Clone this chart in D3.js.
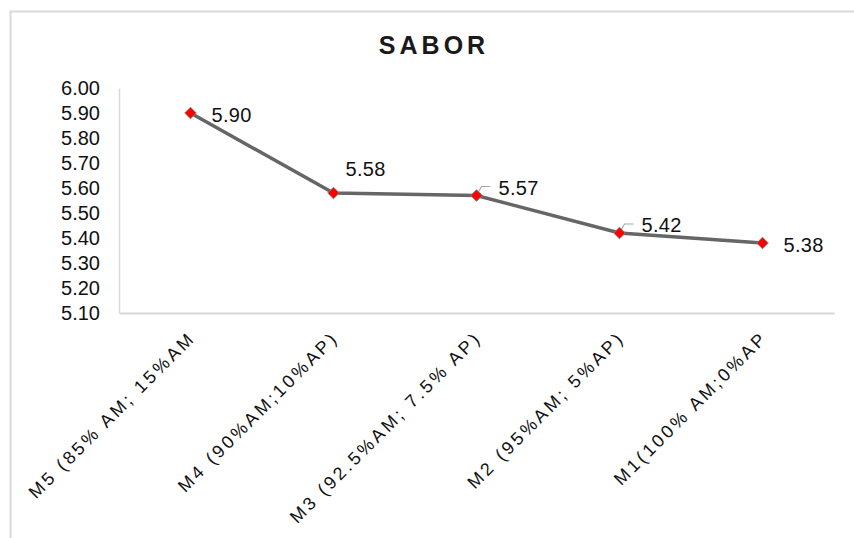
<!DOCTYPE html>
<html>
<head>
<meta charset="utf-8">
<script src="https://cdn.jsdelivr.net/npm/d3@7"></script>
<style>
  body { margin: 0; background: #fff; }
  svg { font-family: Arial, "Liberation Sans", sans-serif; }
</style>
</head>
<body>
<svg id="chart"></svg>
<script>
// data
const categories = [
  "M5 (85% AM; 15%AM",
  "M4 (90%AM;10%AP)",
  "M3 (92.5%AM; 7.5% AP)",
  "M2 (95%AM; 5%AP)",
  "M1(100% AM;0%AP"
];
const sabor = [5.90, 5.58, 5.57, 5.42, 5.38];
const yTicks = [5.10, 5.20, 5.30, 5.40, 5.50, 5.60, 5.70, 5.80, 5.90, 6.00];

// where each value label sits relative to its marker, and which get a leader line
const labelOffsets = [[21, 9], [12, -17], [22, -1], [22, -1], [21, 9]];
const hasLeader = [false, false, true, true, false];

const width = 854, height = 538;
const margin = {left: 119, right: 20, top: 88, bottom: 225};

const svg = d3.select("#chart")
    .attr("width", width)
    .attr("height", height);

// chart border (runs off the right and bottom of the picture)
svg.append("rect")
    .attr("x", 10.5).attr("y", 11.5)
    .attr("width", 900).attr("height", 600)
    .attr("fill", "none")
    .attr("stroke", "#d9d9d9")
    .attr("stroke-width", 2);

svg.append("text")
    .attr("x", 434)
    .attr("y", 54)
    .attr("text-anchor", "middle")
    .style("font-size", "25px")
    .style("font-weight", "bold")
    .style("letter-spacing", "4px")
    .attr("fill", "#1a1a1a")
    .text("SABOR");

const x = d3.scaleBand()
    .domain(categories)
    .range([margin.left, width - margin.right])
    .padding(0);

const y = d3.scaleLinear()
    .domain([5.10, 6.00])
    .range([height - margin.bottom, margin.top]);

// y axis
const yAxis = svg.append("g")
    .attr("transform", `translate(${margin.left},0)`)
    .call(d3.axisLeft(y).tickValues(yTicks).tickFormat(d3.format(".2f")).tickSize(0).tickPadding(19));
yAxis.select(".domain").attr("stroke", "#d9d9d9").attr("stroke-width", 1.5);
yAxis.selectAll("text")
    .style("font-size", "20px")
    .style("font-family", "Arial, 'Liberation Sans', sans-serif")
    .attr("fill", "#111");

// x axis
const xAxis = svg.append("g")
    .attr("transform", `translate(0,${height - margin.bottom})`)
    .call(d3.axisBottom(x).tickSize(0).tickSizeOuter(0));
xAxis.select(".domain").attr("stroke", "#d9d9d9").attr("stroke-width", 2);
xAxis.selectAll("text")
    .attr("text-anchor", "end")
    .attr("dy", 0)
    .attr("y", 0)
    .attr("transform", "translate(6,26) rotate(-45)")
    .style("font-size", "18px")
    .style("letter-spacing", "3px")
    .style("font-family", "Arial, 'Liberation Sans', sans-serif")
    .attr("fill", "#111");

const cx = d => x(d) + x.bandwidth() / 2;
const pts = categories.map((c, i) => ({c, v: sabor[i], i}));

// the line
svg.append("path")
    .datum(pts)
    .attr("fill", "none")
    .attr("stroke", "#666666")
    .attr("stroke-width", 3.5)
    .attr("d", d3.line().x(d => cx(d.c)).y(d => y(d.v)));

// leader lines
svg.selectAll(".leader")
    .data(pts.filter(d => hasLeader[d.i]))
    .join("path")
    .attr("class", "leader")
    .attr("fill", "none")
    .attr("stroke", "#a6a6a6")
    .attr("stroke-width", 1.2)
    .attr("d", d => {
        const px = cx(d.c), py = y(d.v);
        return `M${px + 1},${py - 2}L${px + 5},${py - 9}L${px + 14},${py - 9}`;
    });

// markers
svg.selectAll(".marker")
    .data(pts)
    .join("path")
    .attr("class", "marker")
    .attr("transform", d => `translate(${cx(d.c)},${y(d.v)})`)
    .attr("d", d3.symbol(d3.symbolDiamond2, 85))
    .attr("fill", "#ff0000")
    .attr("stroke", "#7f7f7f")
    .attr("stroke-width", 1);

// value labels
svg.selectAll(".val")
    .data(pts)
    .join("text")
    .attr("class", "val")
    .attr("x", d => cx(d.c) + labelOffsets[d.i][0])
    .attr("y", d => y(d.v) + labelOffsets[d.i][1])
    .style("font-size", "20px")
    .style("letter-spacing", "0.3px")
    .attr("fill", "#111")
    .text(d => d3.format(".2f")(d.v));
</script>
</body>
</html>
